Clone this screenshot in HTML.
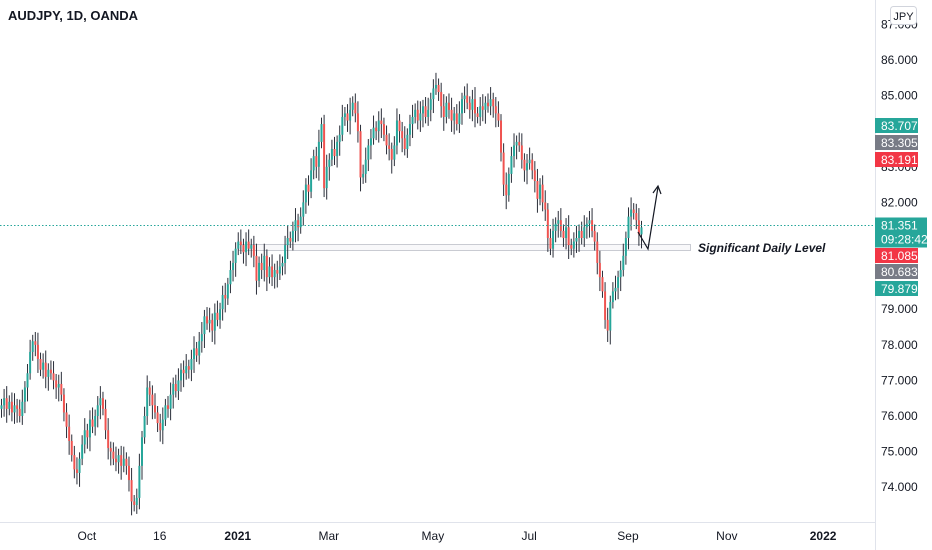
<!DOCTYPE html>
<html><head><meta charset="utf-8"><style>
body{margin:0;background:#fff;}
svg{display:block;font-family:"Liberation Sans",sans-serif;}
</style></head><body>
<svg id="chart" width="932" height="550" viewBox="0 0 932 550">
<rect width="932" height="550" fill="#fff"/>
<line x1="875.5" y1="0" x2="875.5" y2="550" stroke="#e0e3eb"/>
<line x1="0" y1="522.5" x2="875" y2="522.5" stroke="#e0e3eb"/>
<text x="8" y="20" font-size="13" font-weight="bold" fill="#131722">AUDJPY, 1D, OANDA</text>
<g id="yaxis"></g>
<g id="xaxis"></g>
<rect x="238.5" y="244.5" width="452" height="6" fill="#f8f8fa" stroke="#c9cbd2"/>
<g id="candles"></g>
<line id="lastline" x1="0" x2="875" stroke="#26a69a" stroke-dasharray="1.5 2"/>
<polyline points="638,232 648,249 658,187" fill="none" stroke="#131722" stroke-width="1.2"/>
<polyline points="653,193 658,186 661,194" fill="none" stroke="#131722" stroke-width="1.2"/>
<text x="698" y="252" font-size="12" font-style="italic" font-weight="bold" fill="#131722">Significant Daily Level</text>
<g id="tags"></g>
<rect x="890.5" y="6.5" width="26" height="18" rx="3" fill="#fff" stroke="#d1d4dc"/>
<text x="903.5" y="20" font-size="11" text-anchor="middle" fill="#131722">JPY</text>
</svg>
<script>
const closes=[76.3,76.5,76.2,76.4,76.1,76.3,76.2,76.0,76.4,76.8,77.2,77.8,78.1,78.0,77.6,77.3,77.5,77.1,77.3,77.2,77.0,76.8,76.9,76.6,76.1,75.7,75.3,74.9,74.5,74.4,74.8,75.2,75.6,75.4,75.9,75.7,76.0,76.3,76.5,76.2,75.6,75.1,75.0,74.8,74.7,74.9,74.6,74.8,74.6,74.2,73.6,73.5,73.7,74.6,75.4,76.0,76.8,76.6,76.3,76.1,75.8,75.6,75.9,76.3,76.2,76.6,76.9,76.7,77.0,77.3,77.2,77.4,77.3,77.6,77.9,77.7,78.1,78.3,78.8,78.6,78.7,78.4,78.9,78.7,79.0,79.4,79.3,79.7,80.1,80.3,80.7,80.9,80.8,80.6,80.9,80.7,80.8,80.5,79.8,80.3,80.1,80.5,79.9,80.2,79.9,80.1,80.0,80.2,80.3,80.8,81.0,80.9,81.2,81.5,81.3,81.6,82.0,82.5,82.3,82.9,83.3,83.0,83.7,84.2,82.4,83.0,83.2,83.5,83.3,83.7,83.9,84.4,84.5,84.3,84.6,84.8,84.5,84.0,82.7,82.8,83.2,83.6,83.8,84.1,84.0,84.3,84.2,83.9,83.6,83.5,83.2,83.6,84.3,84.0,83.8,83.5,83.9,84.2,84.4,84.6,84.3,84.5,84.7,84.4,84.6,84.9,85.2,85.3,85.1,84.7,84.4,84.8,84.6,84.3,84.5,84.2,84.5,84.9,85.0,84.8,84.6,84.9,84.5,84.4,84.7,84.6,84.8,84.7,84.9,84.7,84.5,84.3,83.4,82.5,82.2,82.8,83.3,83.6,83.7,83.6,83.2,82.9,83.1,83.2,82.9,82.6,82.1,82.5,82.0,81.8,81.0,80.7,81.2,81.4,81.5,81.2,81.0,81.3,80.8,80.7,80.9,81.0,81.2,81.0,81.3,81.4,81.5,81.2,80.9,80.3,79.9,79.5,78.7,78.4,79.2,79.5,79.6,79.9,80.1,80.5,81.0,81.6,81.8,81.7,81.5,81.1,81.3];
const priceTicks=[87,86,85,83,82,79,78,77,76,75,74];
const tickLabels=["87.000","86.000","85.000","83.000","82.000","79.000","78.000","77.000","76.000","75.000","74.000"];
const timeLabels=["Oct","16","2021","Mar","May","Jul","Sep","Nov","2022"];
const timeIndex=[33,61,91,126,166,203,241,279,316];
const boldLabels=["2021","2022"];
const tagValues=[83.707,83.305,83.191,81.085,80.683,79.879];
const tagLabels=["83.707","83.305","83.191","81.085","80.683","79.879"];
const tagKinds=["up","neutral","down","down","neutral","up"];
const lastPrice=81.351;
const lastPriceLabel="81.351";
const countdown="09:28:42";

const NS="http://www.w3.org/2000/svg";
const y=p=>60+(86-p)*35.6;
const n=closes.length;
const pitch=(641-1)/(n-1);
const x=i=>1+i*pitch;
function mk(t,a,parent){const e=document.createElementNS(NS,t);for(const k in a)e.setAttribute(k,a[k]);parent.appendChild(e);return e;}
const yg=document.getElementById('yaxis');
priceTicks.forEach((p,i)=>{const t=mk('text',{x:881,y:y(p)+4,'font-size':12,fill:'#131722'},yg);t.textContent=tickLabels[i];

});
const xg=document.getElementById('xaxis');
timeLabels.forEach((l,i)=>{const t=mk('text',{x:x(timeIndex[i]),y:540,'font-size':12,'text-anchor':'middle',fill:'#131722','font-weight':boldLabels.includes(l)?'bold':'normal'},xg);t.textContent=l;

});
const cg=document.getElementById('candles');
for(let i=0;i<n;i++){
 const c=closes[i],o=i?closes[i-1]:c-0.1;
 const hi=Math.max(o,c)+0.18+(i%3)*0.08, lo=Math.min(o,c)-0.18-((i+1)%4)*0.07;
 const up=c>=o,col=up?'#26a69a':'#ef5350',cx=x(i);
 const w=mk('line',{x1:cx+0.5,x2:cx+0.5,y1:y(hi),y2:y(lo),stroke:'#2a2e39','stroke-width':1},cg);
 
 
 const top=y(Math.max(o,c)),bot=y(Math.min(o,c));
 const b=mk('rect',{x:cx-0.5,y:top,width:2,height:Math.max(1,bot-top),fill:col},cg);
 
 
}
const ll=document.getElementById('lastline');ll.setAttribute('y1',y(lastPrice));ll.setAttribute('y2',y(lastPrice));
const tg=document.getElementById('tags');
const colors={up:'#26a69a',down:'#f23645',neutral:'#787b86'};
const fixedY=[118,135,152,248,264,281];
tagValues.forEach((v,i)=>{
 const r=mk('rect',{x:875,y:fixedY[i],width:43,height:15,fill:colors[tagKinds[i]]},tg);
 
 
 const t=mk('text',{x:881,y:fixedY[i]+12,'font-size':12,fill:'#fff'},tg);t.textContent=tagLabels[i];
 
 
});
const ly=y(lastPrice);
const lr=mk('rect',{x:875,y:ly-8,width:52,height:30,fill:'#26a69a'},tg);


const lt=mk('text',{x:881,y:ly+4,'font-size':12,fill:'#fff'},tg);lt.textContent=lastPriceLabel;


const ct=mk('text',{x:881,y:ly+18,'font-size':12,fill:'#fff'},tg);ct.textContent=countdown;


</script>
</body></html>
